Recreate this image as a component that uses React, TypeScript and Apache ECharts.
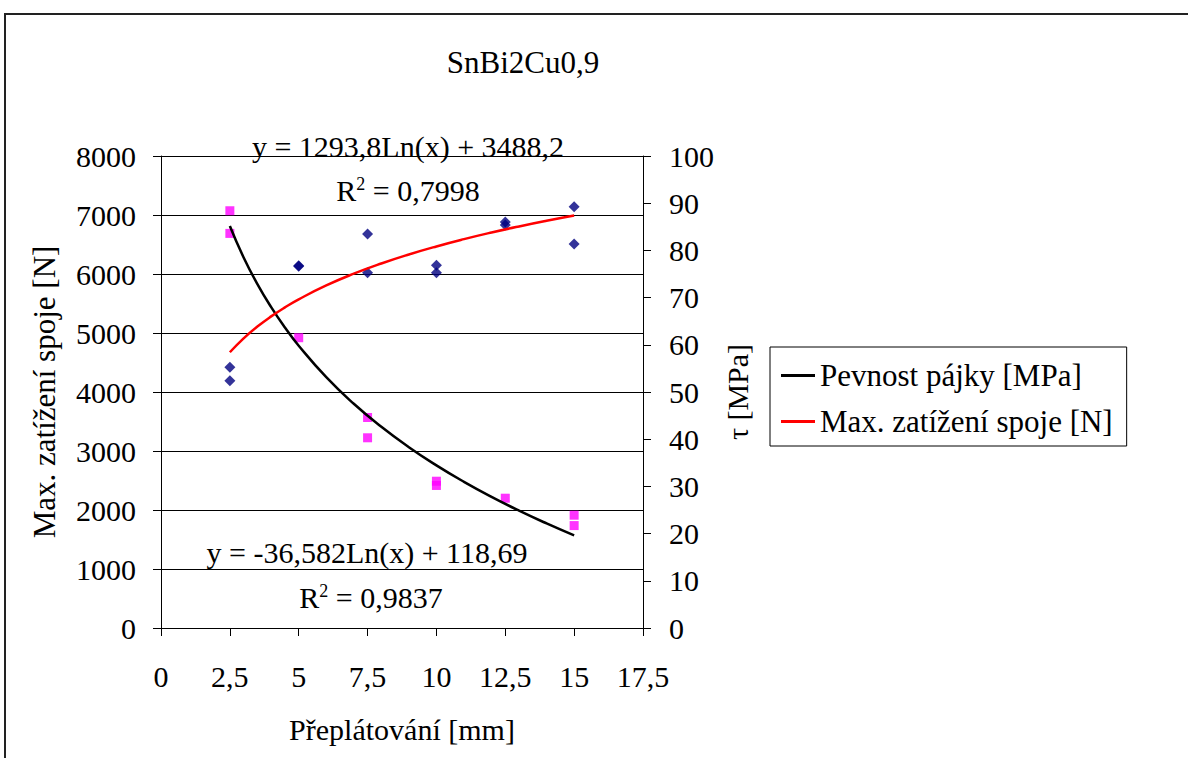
import React, { useEffect, useRef } from "react";
import * as echarts from "echarts";

const title = "SnBi2Cu0,9";
const xName = "Přeplátování [mm]";
const yLeftName = "Max. zatížení spoje [N]";
const yRightName = "τ [MPa]";
const legendStrength = "Pevnost pájky [MPa]";
const legendLoad = "Max. zatížení spoje [N]";

// measured points: Max. zatížení spoje [N] (left axis)
const loadX = [2.5, 2.5, 5, 5, 7.5, 7.5, 10, 10, 12.5, 12.5, 15, 15];
const loadY = [4420, 4190, 6140, 6130, 6680, 6020, 6150, 6020, 6880, 6830, 7140, 6510];

// measured points: τ [MPa] (right axis)
const tauX = [2.5, 2.5, 5, 7.5, 7.5, 10, 10, 12.5, 15, 15];
const tauY = [88.4, 83.6, 61.5, 44.6, 40.3, 31.1, 30.2, 27.5, 23.9, 21.7];

// trend lines as drawn
const trendX = [2.5, 3, 3.5, 4, 4.5, 5, 6, 7, 8, 9, 10, 11, 12, 13, 14, 15];
const loadTrend = [4673.7, 4909.6, 5109.0, 5281.8, 5434.2, 5570.5, 5806.4, 6005.8, 6178.6, 6331.0, 6467.3, 6590.6, 6703.2, 6806.7, 6902.6, 6991.9];
const tauTrend = [85.17, 78.5, 72.86, 67.98, 63.67, 59.81, 53.14, 47.5, 42.62, 38.31, 34.46, 30.97, 27.79, 24.86, 22.15, 19.62];

const eqLoad = "y = 1293,8Ln(x) + 3488,2";
const r2Load = "0,7998";
const eqTau = "y = -36,582Ln(x) + 118,69";
const r2Tau = "0,9837";

const FONT = "'Liberation Serif', serif";

export default function App() {
  const ref = useRef<HTMLDivElement>(null);
  useEffect(() => {
    if (!ref.current) return;
    const chart = echarts.init(ref.current, undefined, { renderer: "svg" });
    const fmt = (v: number) => String(v).replace(".", ",");
    const txt = { fontFamily: FONT, fontSize: 30, color: "#000" };
    chart.setOption({
      animation: false,
      backgroundColor: "#fff",
      textStyle: { fontFamily: FONT },
      title: {
        text: title,
        left: 518,
        top: 42,
        textAlign: "center",
        textStyle: { ...txt, fontSize: 31, fontWeight: "normal" },
      },
      grid: { left: 161, right: 545, top: 156, bottom: 130 },
      legend: {
        orient: "vertical",
        left: 770,
        top: 347,
        data: [legendStrength, legendLoad],
        icon: "rect",
        itemWidth: 34,
        itemHeight: 3,
        itemGap: 15,
        padding: [13, 14, 9, 11],
        borderColor: "#000",
        borderWidth: 1,
        textStyle: { ...txt, fontSize: 31 },
      },
      xAxis: {
        type: "value",
        min: 0,
        max: 17.5,
        interval: 2.5,
        name: xName,
        nameLocation: "middle",
        nameGap: 86,
        nameTextStyle: txt,
        axisLine: { lineStyle: { color: "#000", width: 1 } },
        axisTick: { length: 8, lineStyle: { color: "#000" } },
        axisLabel: { ...txt, margin: 33, formatter: fmt },
        splitLine: { show: false },
      },
      yAxis: [
        {
          type: "value",
          min: 0,
          max: 8000,
          interval: 1000,
          name: yLeftName,
          nameLocation: "middle",
          nameGap: 101,
          nameTextStyle: { ...txt, fontSize: 31 },
          axisLine: { show: true, lineStyle: { color: "#000", width: 1 } },
          axisTick: { show: true, length: 8, lineStyle: { color: "#000" } },
          axisLabel: { ...txt, margin: 25, formatter: (v: number) => String(v) },
          splitLine: { show: true, lineStyle: { color: "#000", width: 1 } },
        },
        {
          type: "value",
          position: "right",
          min: 0,
          max: 100,
          interval: 10,
          name: yRightName,
          nameLocation: "middle",
          nameGap: 79,
          nameTextStyle: txt,
          axisLine: { show: true, lineStyle: { color: "#000", width: 1 } },
          axisTick: { show: true, length: 8, lineStyle: { color: "#000" } },
          axisLabel: { ...txt, margin: 26, formatter: (v: number) => String(v) },
          splitLine: { show: false },
        },
      ],
      series: [
        {
          name: "Max. zatížení body",
          type: "scatter",
          yAxisIndex: 0,
          symbol: "diamond",
          symbolSize: 11,
          itemStyle: { color: "#000080" },
          data: loadX.map((x, i) => [x, loadY[i]]),
          z: 3,
        },
        {
          name: "τ body",
          type: "scatter",
          yAxisIndex: 1,
          symbol: "rect",
          symbolSize: 9,
          itemStyle: { color: "#FF00FF" },
          data: tauX.map((x, i) => [x, tauY[i]]),
          z: 3,
        },
        {
          name: legendStrength,
          type: "line",
          yAxisIndex: 1,
          showSymbol: false,
          smooth: true,
          lineStyle: { color: "#000", width: 2.5 },
          itemStyle: { color: "#000" },
          data: trendX.map((x, i) => [x, tauTrend[i]]),
          z: 4,
        },
        {
          name: legendLoad,
          type: "line",
          yAxisIndex: 0,
          showSymbol: false,
          smooth: true,
          lineStyle: { color: "#FF0000", width: 2.5 },
          itemStyle: { color: "#FF0000" },
          data: trendX.map((x, i) => [x, loadTrend[i]]),
          z: 4,
        },
      ],
      graphic: [
        {
          type: "rect",
          silent: true,
          shape: { x: 5, y: 14, width: 1300, height: 900 },
          style: { fill: "none", stroke: "#222", lineWidth: 2 },
          z: -1,
        },
        {
          type: "text",
          x: 408,
          y: 146,
          style: { text: eqLoad, fill: "#000", font: `30px ${FONT}`, align: "center", verticalAlign: "middle" },
          z: 10,
        },
        {
          type: "text",
          x: 408,
          y: 190,
          style: {
            text: "R{sup|2} = " + r2Load,
            fill: "#000",
            font: `30px ${FONT}`,
            align: "center",
            verticalAlign: "middle",
            rich: { sup: { fontSize: 18, fontFamily: FONT, verticalAlign: "top", fill: "#000" } },
          },
          z: 10,
        },
        {
          type: "text",
          x: 367,
          y: 552,
          style: { text: eqTau, fill: "#000", font: `30px ${FONT}`, align: "center", verticalAlign: "middle" },
          z: 10,
        },
        {
          type: "text",
          x: 371,
          y: 597,
          style: {
            text: "R{sup|2} = " + r2Tau,
            fill: "#000",
            font: `30px ${FONT}`,
            align: "center",
            verticalAlign: "middle",
            rich: { sup: { fontSize: 18, fontFamily: FONT, verticalAlign: "top", fill: "#000" } },
          },
          z: 10,
        },
      ],
    });
    return () => chart.dispose();
  }, []);
  return (
    <div
      ref={ref}
      style={{ position: "fixed", left: 0, top: 0, width: 1188, height: 758 }}
    />
  );
}
